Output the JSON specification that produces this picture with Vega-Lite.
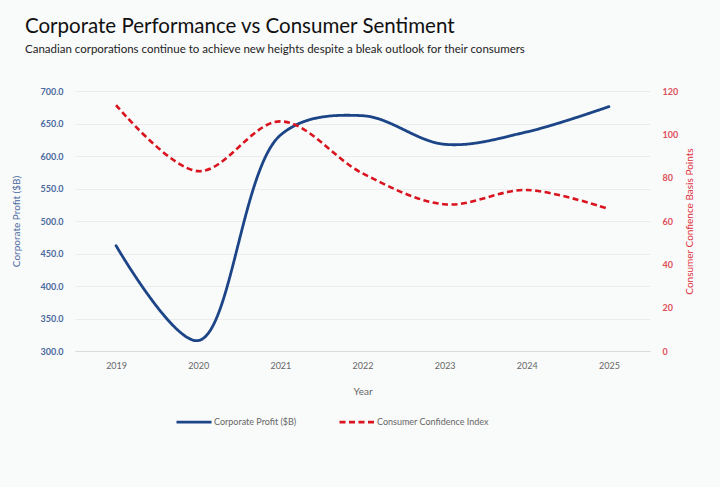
{
  "$schema": "https://vega.github.io/schema/vega-lite/v6.json",
  "width": 575,
  "height": 260,
  "autosize": "none",
  "padding": {"left": 75, "top": 91, "right": 70, "bottom": 136},
  "background": "#f9fafa",
  "title": {
    "text": "Corporate Performance vs Consumer Sentiment",
    "subtitle": "Canadian corporations continue to achieve new heights despite a bleak outlook for their consumers",
    "anchor": "start",
    "frame": "group",
    "dx": -50,
    "offset": 32,
    "font": "Lato",
    "fontSize": 20.5,
    "fontWeight": "normal",
    "color": "#111111",
    "subtitleFont": "Lato",
    "subtitleFontSize": 11.5,
    "subtitleColor": "#222222",
    "subtitlePadding": 6
  },
  "data": {
    "values": [
      {"Year": "2019", "profit": 462, "confidence": 113.5},
      {"Year": "2020", "profit": 316, "confidence": 83},
      {"Year": "2021", "profit": 632, "confidence": 106},
      {"Year": "2022", "profit": 662, "confidence": 82},
      {"Year": "2023", "profit": 618, "confidence": 67.7},
      {"Year": "2024", "profit": 637, "confidence": 74.3},
      {"Year": "2025", "profit": 676, "confidence": 65.5}
    ]
  },
  "encoding": {
    "x": {
      "field": "Year",
      "type": "ordinal",
      "scale": {"type": "point", "padding": 0.5},
      "axis": {
        "title": "Year",
        "labelAngle": 0,
        "labelFont": "Lato",
        "labelFontSize": 9,
        "labelColor": "#666666",
        "labelPadding": 10,
        "ticks": false,
        "domainColor": "#d9d9d9",
        "titleFont": "Lato",
        "titleFontSize": 10,
        "titleFontWeight": "normal",
        "titleColor": "#666666",
        "titlePadding": 16
      }
    }
  },
  "layer": [
    {
      "mark": {"type": "line", "interpolate": "catmull-rom", "strokeWidth": 2.8, "strokeCap": "round"},
      "encoding": {
        "y": {
          "field": "profit",
          "type": "quantitative",
          "scale": {"domain": [300, 700], "nice": false, "zero": false},
          "axis": {
            "title": "Corporate Profit ($B)",
            "values": [300, 350, 400, 450, 500, 550, 600, 650, 700],
            "format": ".1f",
            "domain": false,
            "ticks": false,
            "labelPadding": 12,
            "labelFont": "Lato",
            "labelFontSize": 9,
            "labelFontWeight": "bold",
            "labelColor": "#4b6a9e",
            "gridColor": "#ececec",
            "titleFont": "Lato",
            "titleFontSize": 10,
            "titleFontWeight": "normal",
            "titleColor": "#4b6a9e",
            "titlePadding": 18
          }
        },
        "color": {
          "datum": "Corporate Profit ($B)",
          "scale": {
            "domain": ["Corporate Profit ($B)", "Consumer Confidence Index"],
            "range": ["#1c4587", "#d9141e"]
          },
          "legend": {
            "title": null,
            "orient": "none",
            "legendX": 100,
            "legendY": 312,
            "direction": "horizontal",
            "symbolType": "stroke",
            "symbolSize": 1225,
            "symbolStrokeWidth": 2.8,
            "labelFont": "Lato",
            "labelFontSize": 9,
            "labelColor": "#666666",
            "labelOffset": 1,
            "columnPadding": 36
          }
        },
        "strokeDash": {
          "datum": "Corporate Profit ($B)",
          "scale": {
            "domain": ["Corporate Profit ($B)", "Consumer Confidence Index"],
            "range": [[1, 0], [6, 3.5]]
          },
          "legend": null
        }
      }
    },
    {
      "mark": {"type": "line", "interpolate": "catmull-rom", "strokeWidth": 2.6},
      "encoding": {
        "y": {
          "field": "confidence",
          "type": "quantitative",
          "scale": {"domain": [0, 120], "nice": false},
          "axis": {
            "title": "Consumer Confience Basis Points",
            "orient": "right",
            "values": [0, 20, 40, 60, 80, 100, 120],
            "grid": false,
            "domain": false,
            "ticks": false,
            "labelPadding": 12,
            "labelFont": "Lato",
            "labelFontSize": 9,
            "labelFontWeight": "bold",
            "labelColor": "#e0505a",
            "titleAngle": 270,
            "titleFont": "Lato",
            "titleFontSize": 10,
            "titleFontWeight": "normal",
            "titleColor": "#e0303a",
            "titlePadding": 17
          }
        },
        "color": {"datum": "Consumer Confidence Index"},
        "strokeDash": {"datum": "Consumer Confidence Index"}
      }
    }
  ],
  "resolve": {"scale": {"y": "independent"}},
  "config": {
    "view": {"stroke": null}
  }
}
